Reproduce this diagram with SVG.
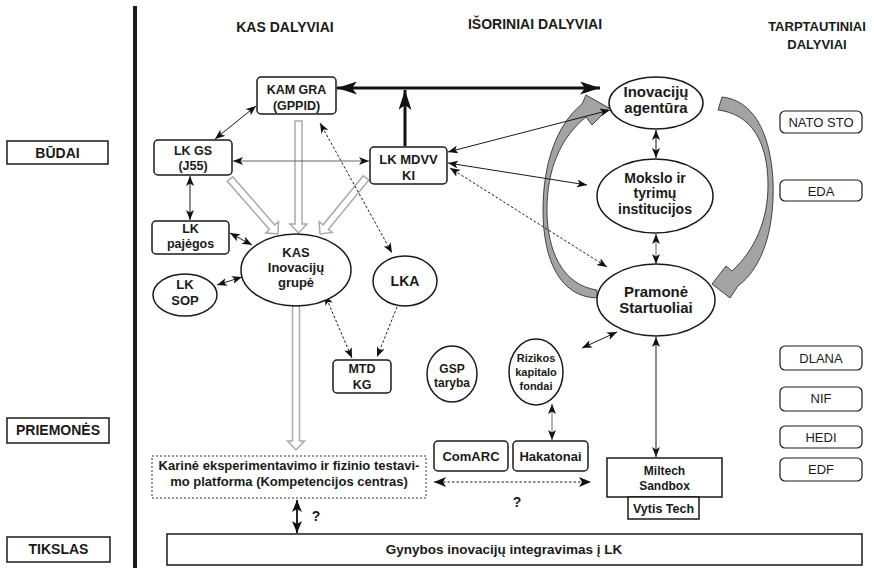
<svg xmlns="http://www.w3.org/2000/svg" width="874" height="568" viewBox="0 0 874 568">
<defs>
<marker id="a" viewBox="0 0 10 8" refX="10" refY="4" markerWidth="10" markerHeight="8" markerUnits="userSpaceOnUse" orient="auto-start-reverse"><path d="M0,0 L10,4 L0,8 L2.5,4z" fill="#111"/></marker>
<marker id="m" viewBox="0 0 12 10" refX="12" refY="5" markerWidth="12" markerHeight="10" markerUnits="userSpaceOnUse" orient="auto-start-reverse"><path d="M0,0 L12,5 L0,10 L3,5z" fill="#111"/></marker>
<marker id="b" viewBox="0 0 20 13" refX="20" refY="6.5" markerWidth="20" markerHeight="13" markerUnits="userSpaceOnUse" orient="auto-start-reverse"><path d="M0,0 L20,6.5 L0,13 L5,6.5z" fill="#111"/></marker>
</defs>
<style>
text{font-family:"Liberation Sans",Arial,sans-serif;font-weight:bold;fill:#1a1a1a;text-anchor:middle}
.r{font-weight:normal}
.n{fill:#fff;stroke:#1a1a1a;stroke-width:1.5}
.lb{fill:#fff;stroke:#1a1a1a;stroke-width:1.5}
.ib{fill:#fff;stroke:#1a1a1a;stroke-width:1.2}
.c{fill:none;stroke:#1a1a1a;stroke-width:1;marker-start:url(#a);marker-end:url(#a)}
.d{fill:none;stroke:#1a1a1a;stroke-width:1;stroke-dasharray:2.5,2}
.g{stroke:#666}
.ba{fill:#fff;stroke:#aaa;stroke-width:1.5}
.ca{fill:#a3a3a3;stroke:#222;stroke-width:0.8}
</style>
<rect width="874" height="568" fill="#fff"/>
<rect x="133" y="6" width="4" height="562" fill="#1a1a1a"/>

<g id="headers">
<text x="285" y="32" font-size="14">KAS DALYVIAI</text>
<text x="535" y="29" font-size="14">IŠORINIAI DALYVIAI</text>
<text x="817" y="31" font-size="13">TARPTAUTINIAI</text>
<text x="817" y="49" font-size="13">DALYVIAI</text>
</g>

<g id="budai"><rect class="lb" x="7" y="141" width="101" height="23"/><text x="57.5" y="158" font-size="14">BŪDAI</text></g>
<g id="priemones"><rect class="lb" x="7" y="418" width="102" height="25"/><text x="58" y="435" font-size="14">PRIEMONĖS</text></g>
<g id="tikslas"><rect class="lb" x="7" y="537" width="103" height="25"/><text x="58.5" y="554" font-size="14">TIKSLAS</text></g>

<g id="block-arrows">
<polygon class="ba" transform="translate(230,179) rotate(48.9)" points="0,-3.5 64,-3.5 64,-8.5 73,0 64,8.5 64,3.5 0,3.5"/>
<polygon class="ba" transform="translate(366,178) rotate(129.4)" points="0,-3.5 63.5,-3.5 63.5,-8.5 72.5,0 63.5,8.5 63.5,3.5 0,3.5"/>
<polygon class="ba" transform="translate(298.5,121) rotate(90)" points="0,-3.5 103,-3.5 103,-8.5 112,0 103,8.5 103,3.5 0,3.5"/>
<polygon class="ba" transform="translate(296,305) rotate(90)" points="0,-3.5 136,-3.5 136,-8.5 145,0 136,8.5 136,3.5 0,3.5"/>
</g>

<g id="curved-arrows">
<path class="ca" d="M597,290 C562,285 547,250 547,210 C547,170 560,138 586,117 L592,125 L609,108 L586,95 L582,104 C556,125 543,165 543,210 C543,260 560,297 597,298 Z"/>
<path class="ca" d="M722,97 C752,100 770,130 773,180 C775,230 762,268 738,286 L730,298 L712,284 L726,266 L732,271 C755,250 768,220 768,185 C768,140 750,114 718,110 Z"/>
</g>

<g id="connectors">
<line x1="337" y1="88" x2="600" y2="88" stroke="#111" stroke-width="3" marker-start="url(#b)" marker-end="url(#b)"/>
<line x1="405" y1="146" x2="405" y2="90" stroke="#111" stroke-width="3" marker-end="url(#b)"/>
<line class="c" x1="215" y1="139" x2="256" y2="106"/>
<line class="c g" x1="233" y1="161" x2="369" y2="161"/>
<line class="c" x1="190" y1="176" x2="190" y2="220"/>
<line class="c" x1="230" y1="233" x2="252" y2="245" stroke-width="1.5"/>
<line class="c" x1="217" y1="285" x2="242" y2="277" stroke-width="1.5"/>
<line class="d" x1="320" y1="123" x2="392" y2="253" marker-start="url(#a)" marker-end="url(#a)"/>
<line class="d" x1="325" y1="295" x2="352" y2="358" marker-start="url(#a)" marker-end="url(#a)"/>
<line class="d" x1="397" y1="307" x2="377" y2="357" marker-end="url(#a)"/>
<line class="c" x1="448" y1="152" x2="610" y2="110"/>
<line class="c" x1="448" y1="163" x2="587" y2="185"/>
<line class="d" x1="450" y1="168" x2="607" y2="267" marker-start="url(#a)" marker-end="url(#a)"/>
<line class="c" x1="656" y1="130" x2="656" y2="158"/>
<line class="c g" x1="656" y1="234" x2="656" y2="264"/>
<line class="c" x1="582" y1="348" x2="617" y2="332"/>
<line class="c" x1="656" y1="337" x2="656" y2="457"/>
<line class="c g" x1="552" y1="404" x2="552" y2="440" stroke-width="1.5"/>
<line class="d" x1="434" y1="482" x2="591" y2="482" marker-start="url(#m)" marker-end="url(#m)"/>
<line x1="297" y1="500" x2="297" y2="533" stroke="#111" stroke-width="1.8" marker-start="url(#m)" marker-end="url(#m)"/>
</g>

<g id="q1"><text x="316" y="521" font-size="14">?</text></g>
<g id="q2"><text x="517" y="507" font-size="14">?</text></g>

<g id="kam-gra"><rect class="n" x="257" y="77" width="79" height="37" rx="4"/><text x="296.5" y="94" font-size="12.5">KAM GRA</text><text x="296.5" y="109.5" font-size="12.5">(GPPID)</text></g>
<g id="lk-gs"><rect class="n" x="154" y="140" width="78" height="35" rx="4"/><text x="193" y="155" font-size="12.5">LK GS</text><text x="193" y="170" font-size="12.5">(J55)</text></g>
<g id="lk-mdvv"><rect class="n" x="370" y="147" width="77" height="37" rx="4"/><text x="408.5" y="164" font-size="13">LK MDVV</text><text x="408.5" y="180" font-size="13">KI</text></g>
<g id="lk-pajegos"><rect class="n" x="152" y="221" width="77" height="33" rx="4"/><text x="190.5" y="233" font-size="12.5">LK</text><text x="190.5" y="248" font-size="12.5">pajėgos</text></g>
<g id="lk-sop"><ellipse class="n" cx="185" cy="295" rx="32" ry="21"/><text x="185" y="289" font-size="13">LK</text><text x="185" y="305" font-size="13">SOP</text></g>
<g id="kas-grupe"><ellipse class="n" cx="296" cy="270" rx="55" ry="36"/><text x="296" y="257" font-size="13">KAS</text><text x="296" y="272" font-size="13">Inovacijų</text><text x="296" y="287" font-size="13">grupė</text></g>
<g id="lka"><ellipse class="n" cx="405" cy="281" rx="32" ry="25"/><text x="405" y="286" font-size="14">LKA</text></g>
<g id="mtd-kg"><rect class="n" x="333" y="360" width="58" height="33" rx="4"/><text x="362" y="373" font-size="12.5">MTD</text><text x="362" y="389" font-size="12.5">KG</text></g>

<g id="inovaciju-agentura"><ellipse class="n" cx="656" cy="103" rx="47" ry="26"/><text x="656" y="97" font-size="15">Inovacijų</text><text x="656" y="113" font-size="15">agentūra</text></g>
<g id="mokslo"><ellipse class="n" cx="655" cy="196" rx="58" ry="37"/><text x="655" y="183" font-size="14">Mokslo ir</text><text x="655" y="198" font-size="14">tyrimų</text><text x="655" y="214" font-size="14">institucijos</text></g>
<g id="pramone"><ellipse class="n" cx="656" cy="300" rx="59" ry="36"/><text x="656" y="297" font-size="15">Pramonė</text><text x="656" y="313" font-size="15">Startuoliai</text></g>
<g id="gsp"><ellipse class="n" cx="452" cy="374" rx="25" ry="28"/><text x="452" y="373" font-size="12">GSP</text><text x="452" y="387" font-size="12">taryba</text></g>
<g id="rizikos"><ellipse class="n" cx="536" cy="372" rx="27" ry="33"/><text x="536" y="362" font-size="11">Rizikos</text><text x="536" y="376" font-size="11">kapitalo</text><text x="536" y="390" font-size="11">fondai</text></g>
<g id="comarc"><rect class="n" x="434" y="441" width="74" height="30" rx="4"/><text x="471" y="461" font-size="13">ComARC</text></g>
<g id="hakatonai"><rect class="n" x="513" y="441" width="75" height="30" rx="4"/><text x="550.5" y="461" font-size="13">Hakatonai</text></g>
<g id="miltech"><rect class="n" x="607" y="458" width="115" height="39"/><text x="664.5" y="475" font-size="12">Miltech</text><text x="664.5" y="490" font-size="12">Sandbox</text></g>
<g id="vytis"><rect class="n" x="628" y="497" width="71" height="22"/><text x="663.5" y="513" font-size="12.5">Vytis Tech</text></g>

<g id="karine"><rect x="152" y="456" width="274" height="42" fill="#fff" stroke="#333" stroke-width="1" stroke-dasharray="2,2"/><text x="289" y="470" font-size="13">Karinė eksperimentavimo ir fizinio testavi-</text><text x="289" y="486" font-size="13">mo platforma (Kompetencijos centras)</text></g>
<g id="gynybos"><rect class="lb" x="167" y="534" width="695" height="31"/><text x="504" y="554" font-size="13.5">Gynybos inovacijų integravimas į LK</text></g>

<g id="nato"><rect class="ib" x="780" y="111" width="82" height="22" rx="5"/><text class="r" x="821" y="127" font-size="13">NATO STO</text></g>
<g id="eda"><rect class="ib" x="780" y="180" width="82" height="21" rx="5"/><text class="r" x="821" y="196" font-size="13">EDA</text></g>
<g id="dlana"><rect class="ib" x="780" y="346" width="82" height="24" rx="5"/><text class="r" x="821" y="363" font-size="13">DLANA</text></g>
<g id="nif"><rect class="ib" x="780" y="387" width="82" height="24" rx="5"/><text class="r" x="821" y="403" font-size="13">NIF</text></g>
<g id="hedi"><rect class="ib" x="780" y="426" width="82" height="22" rx="5"/><text class="r" x="821" y="442" font-size="13">HEDI</text></g>
<g id="edf"><rect class="ib" x="780" y="458" width="82" height="23" rx="5"/><text class="r" x="821" y="474" font-size="13">EDF</text></g>
</svg>
